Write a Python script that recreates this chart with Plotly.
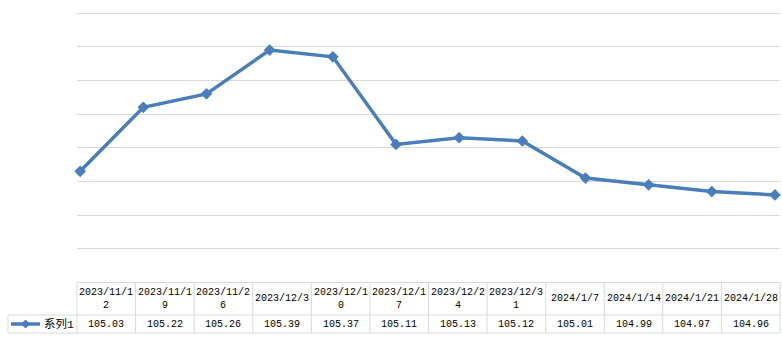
import plotly.graph_objects as go

dates = ["2023/11/12", "2023/11/19", "2023/11/26", "2023/12/3", "2023/12/10",
         "2023/12/17", "2023/12/24", "2023/12/31", "2024/1/7", "2024/1/14",
         "2024/1/21", "2024/1/28"]
values = [105.03, 105.22, 105.26, 105.39, 105.37, 105.11, 105.13, 105.12,
          105.01, 104.99, 104.97, 104.96]
series_name = "系列1"

W, H = 782, 353
COLOR = "#4a7ebb"
GRID = "#d9d9d9"
FONT = "Liberation Mono, 'Noto Sans CJK SC', monospace"
FS = 10

def px(x):
    return x / W

def py(y):
    return 1 - y / H

n = len(dates)
fig = go.Figure()
fig.add_trace(go.Scatter(
    x=list(range(n)), y=values, mode="lines+markers",
    line=dict(color=COLOR, width=3.5),
    marker=dict(symbol="diamond", size=9, color=COLOR),
    cliponaxis=False,
    showlegend=False, hoverinfo="skip"))

# table geometry
tx0, tx1 = 77, 780
lx0 = 8
ty0, ty1, ty2 = 282.5, 315, 333
cw = (tx1 - tx0) / n

# y axis: 104.7 at pixel ty0, 105.5 at pixel 13; extend slightly above so top gridline shows
y_lo, y_hi_grid, y_hi = 104.7, 105.5, 105.52
scale = (ty0 - 13) / (y_hi_grid - y_lo)
top_px = ty0 - (y_hi - y_lo) * scale

shapes = []
line_style = dict(color=GRID, width=1)
shapes.append(dict(type="line", xref="paper", yref="paper", x0=px(tx0), x1=px(tx1), y0=py(ty0), y1=py(ty0), line=line_style))
shapes.append(dict(type="line", xref="paper", yref="paper", x0=px(lx0), x1=px(tx1), y0=py(ty1), y1=py(ty1), line=line_style))
shapes.append(dict(type="line", xref="paper", yref="paper", x0=px(lx0), x1=px(tx1), y0=py(ty2), y1=py(ty2), line=line_style))
shapes.append(dict(type="line", xref="paper", yref="paper", x0=px(lx0), x1=px(lx0), y0=py(ty1), y1=py(ty2), line=line_style))
for i in range(n + 1):
    xx = tx0 + i * cw
    shapes.append(dict(type="line", xref="paper", yref="paper", x0=px(xx), x1=px(xx), y0=py(ty0), y1=py(ty2), line=line_style))
# legend key: line + diamond
shapes.append(dict(type="line", xref="paper", yref="paper", x0=px(11), x1=px(40), y0=py(324), y1=py(324), line=dict(color=COLOR, width=3.5)))
mx, my, r = 25.5, 324, 4
path = (f"M {px(mx - r)},{py(my)} L {px(mx)},{py(my - r)} "
        f"L {px(mx + r)},{py(my)} L {px(mx)},{py(my + r)} Z")
shapes.append(dict(type="path", xref="paper", yref="paper", path=path,
                   fillcolor=COLOR, line=dict(color=COLOR, width=1)))

annotations = []
for i, (d, v) in enumerate(zip(dates, values)):
    cx = tx0 + (i + 0.5) * cw
    label = d if len(d) <= 9 else d[:9] + "<br>" + d[9:]
    annotations.append(dict(x=px(cx), y=py((ty0 + ty1) / 2), xref="paper", yref="paper",
                            text=label, showarrow=False, xanchor="center", yanchor="middle",
                            font=dict(family=FONT, size=FS, color="#000000")))
    annotations.append(dict(x=px(cx), y=py((ty1 + ty2) / 2), xref="paper", yref="paper",
                            text=f"{v:.2f}", showarrow=False, xanchor="center", yanchor="middle",
                            font=dict(family=FONT, size=FS, color="#000000")))
annotations.append(dict(x=px(42), y=py(324), xref="paper", yref="paper", text=series_name,
                        showarrow=False, xanchor="left", yanchor="middle",
                        font=dict(family=FONT, size=11.5, color="#000000")))

fig.update_layout(
    width=W, height=H,
    margin=dict(l=0, r=0, t=0, b=0),
    paper_bgcolor="white", plot_bgcolor="white",
    xaxis=dict(domain=[px(77), px(780)], range=[-0.05, n - 1 + 0.08],
               showgrid=False, showticklabels=False, zeroline=False, showline=False, ticks=""),
    yaxis=dict(domain=[py(ty0), py(top_px)], range=[y_lo, y_hi], dtick=0.1, tick0=104.7,
               showgrid=True, gridcolor=GRID, gridwidth=1, showticklabels=False,
               zeroline=False, showline=False, ticks=""),
    shapes=shapes, annotations=annotations,
)
fig.write_html("out.html")
